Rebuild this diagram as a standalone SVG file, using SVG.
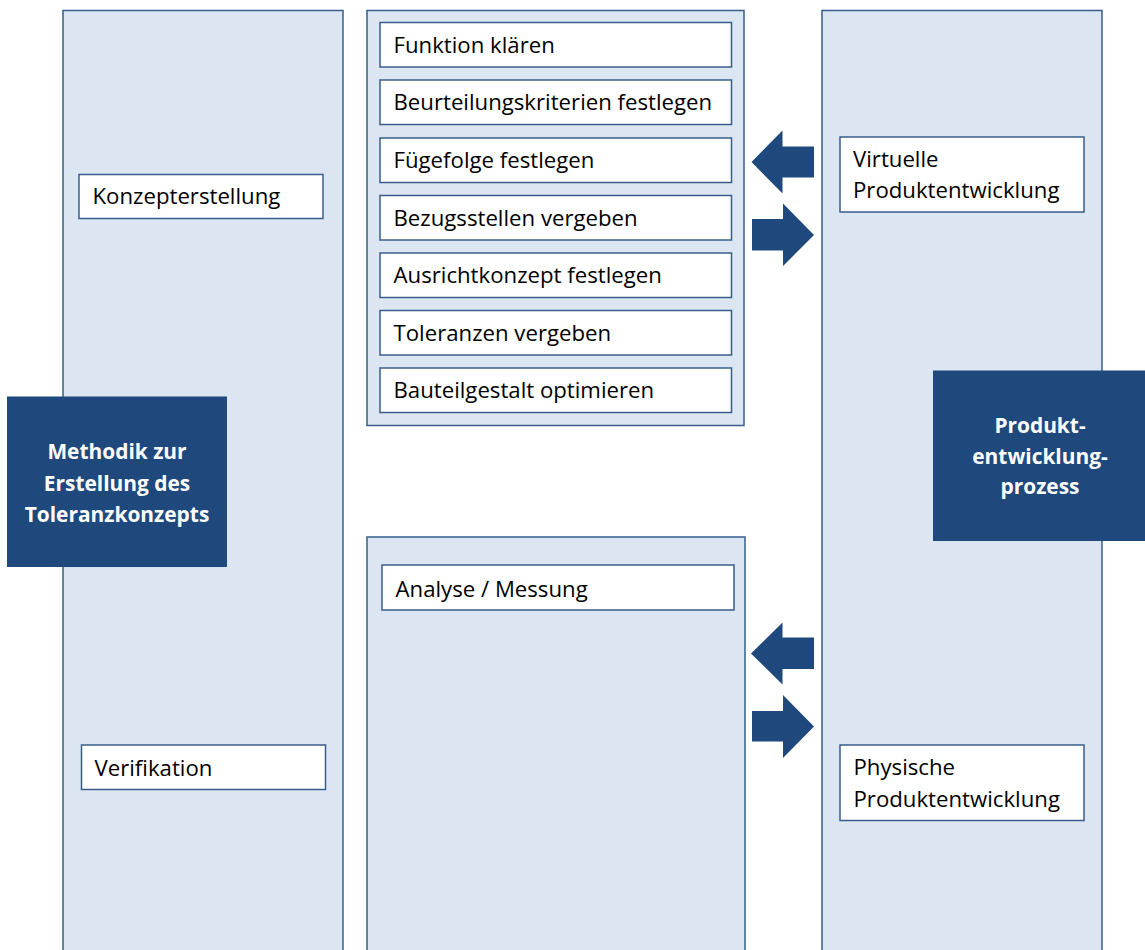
<svg xmlns="http://www.w3.org/2000/svg" width="1145" height="950" viewBox="0 0 1145 950">
  <style>
    .panel { fill: #dce6f2; stroke: #385d8a; stroke-width: 1.5; }
    .box { fill: #ffffff; stroke: #385d8a; stroke-width: 1.5; }
    .head { fill: #1f497d; stroke: #1f497d; stroke-width: 1; }
    .arrow { fill: #1f497d; }
    .lbl { font-family: "Open Sans", "Noto Sans", sans-serif; font-size: 22.2px; fill: #000000; }
    .title { font-family: "Open Sans", "Noto Sans", sans-serif; font-size: 20.9px; font-weight: bold; fill: #ffffff; text-anchor: middle; }
  </style>

  <rect width="1145" height="950" fill="#ffffff"/>

  <!-- Left column: method -->
  <g id="panel-method">
    <rect class="panel" x="63" y="10.5" width="280" height="960"/>
  </g>

  <!-- Middle column, upper part: virtual steps -->
  <g id="panel-steps">
    <rect class="panel" x="367" y="10.5" width="377" height="415"/>
  </g>

  <!-- Middle column, lower part: analysis -->
  <g id="panel-analysis">
    <rect class="panel" x="367" y="537" width="378" height="430"/>
  </g>

  <!-- Right column: product development -->
  <g id="panel-pep">
    <rect class="panel" x="822" y="10.5" width="280" height="960"/>
  </g>

  <g id="node-konzept">
    <rect class="box" x="79" y="174.5" width="244" height="44"/>
    <text class="lbl" x="92.5" y="204">Konzepterstellung</text>
  </g>

  <g id="node-verifikation">
    <rect class="box" x="81.5" y="745" width="244" height="44.5"/>
    <text class="lbl" x="94.5" y="776">Verifikation</text>
  </g>

  <g id="node-funktion">
    <rect class="box" x="380" y="22.5" width="351.5" height="44.5"/>
    <text class="lbl" x="393.5" y="52.5">Funktion klären</text>
  </g>
  <g id="node-beurteilung">
    <rect class="box" x="380" y="80" width="351.5" height="44.5"/>
    <text class="lbl" x="393.5" y="110">Beurteilungskriterien festlegen</text>
  </g>
  <g id="node-fuegefolge">
    <rect class="box" x="380" y="138" width="351.5" height="44.5"/>
    <text class="lbl" x="393.5" y="168">Fügefolge festlegen</text>
  </g>
  <g id="node-bezug">
    <rect class="box" x="380" y="195.5" width="351.5" height="44.5"/>
    <text class="lbl" x="393.5" y="225.5">Bezugsstellen vergeben</text>
  </g>
  <g id="node-ausricht">
    <rect class="box" x="380" y="253" width="351.5" height="44.5"/>
    <text class="lbl" x="393.5" y="283">Ausrichtkonzept festlegen</text>
  </g>
  <g id="node-toleranzen">
    <rect class="box" x="380" y="310.5" width="351.5" height="44.5"/>
    <text class="lbl" x="393.5" y="340.5">Toleranzen vergeben</text>
  </g>
  <g id="node-bauteil">
    <rect class="box" x="380" y="368" width="351.5" height="44.5"/>
    <text class="lbl" x="393.5" y="398">Bauteilgestalt optimieren</text>
  </g>

  <g id="node-analyse">
    <rect class="box" x="382" y="565" width="352" height="45"/>
    <text class="lbl" x="395.5" y="596.5">Analyse / Messung</text>
  </g>

  <g id="node-virtuell">
    <rect class="box" x="840" y="137" width="244" height="75"/>
    <text class="lbl" x="853" y="166.5">Virtuelle</text>
    <text class="lbl" x="853" y="198">Produktentwicklung</text>
  </g>

  <g id="node-physisch">
    <rect class="box" x="840" y="745" width="244" height="75.5"/>
    <text class="lbl" x="853.5" y="775">Physische</text>
    <text class="lbl" x="853.5" y="807">Produktentwicklung</text>
  </g>

  <g id="node-methodik">
    <rect class="head" x="7.5" y="397" width="219" height="169.5"/>
    <text class="title" x="117" y="459">Methodik zur</text>
    <text class="title" x="117" y="490.5">Erstellung des</text>
    <text class="title" x="117" y="521.5">Toleranzkonzepts</text>
  </g>

  <g id="node-pep">
    <rect class="head" x="933.5" y="371" width="220" height="169.5"/>
    <text class="title" x="1040" y="432.5">Produkt-</text>
    <text class="title" x="1040" y="464">entwicklung-</text>
    <text class="title" x="1040" y="494">prozess</text>
  </g>

  <!-- Block arrows between the step panels and the product development column -->
  <g id="connectors">
    <polygon class="arrow" points="751.5,162 782.5,130.5 782.5,146.5 814,146.5 814,177.5 782.5,177.5 782.5,193.5"/>
    <polygon class="arrow" points="752,219 783,219 783,203.5 814,235 783,266 783,250.5 752,250.5"/>
    <polygon class="arrow" points="751,653.5 782.5,622.5 782.5,637.5 814,637.5 814,669 782.5,669 782.5,684.5"/>
    <polygon class="arrow" points="752,711 783,711 783,695 814,726.5 783,758 783,741.5 752,741.5"/>
  </g>
</svg>
